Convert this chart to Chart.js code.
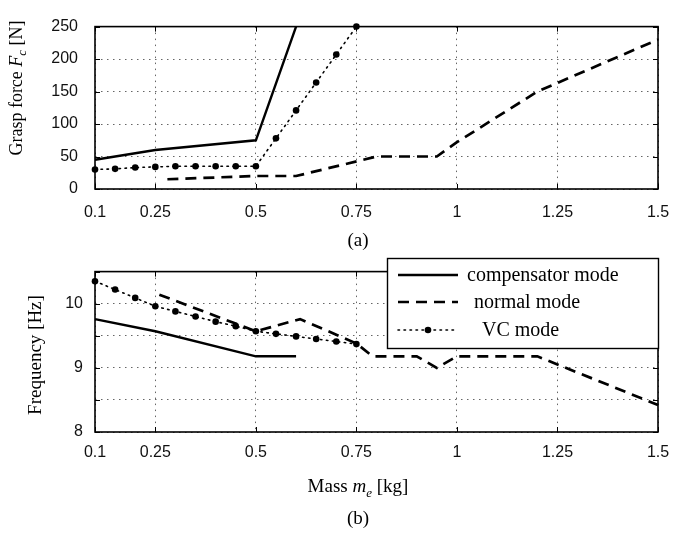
<!DOCTYPE html>
<html><head><meta charset="utf-8">
<script src="https://cdn.jsdelivr.net/npm/chart.js@4"></script>
<style>
html,body{margin:0;padding:0;background:#fff;}
#wrap{position:relative;width:689px;height:537px;background:#fff;}
#c1{position:absolute;left:0;top:0;}
#c2{position:absolute;left:0;top:250px;}
</style></head><body>
<div id="wrap"><canvas id="c1" width="689" height="250"></canvas><canvas id="c2" width="689" height="287"></canvas></div>
<script>
// ---- tick definitions ----
const massTicks = [0.1, 0.25, 0.5, 0.75, 1, 1.25, 1.5];
const massTickLabels = ['0.1', '0.25', '0.5', '0.75', '1', '1.25', '1.5'];
const forceTicks = [0, 50, 100, 150, 200, 250];
const forceTickLabels = ['0', '50', '100', '150', '200', '250'];
const freqTicks = [8, 8.5, 9, 9.5, 10, 10.5];
const freqTickLabels = ['8', '', '9', '', '10', ''];

// ---- (a) grasp force [N] ----
const forceCompMass = [0.1, 0.25, 0.5, 0.6];
const forceComp = [45, 60, 75, 250];
const forceNormalMass = [0.28, 0.5, 0.6, 0.8, 0.95, 1.0, 1.2, 1.5];
const forceNormal = [15, 20, 20, 50, 50, 72, 150, 230];
const forceVCMass = [0.1, 0.15, 0.2, 0.25, 0.3, 0.35, 0.4, 0.45, 0.5, 0.55, 0.6, 0.65, 0.7, 0.75];
const forceVC = [30, 31, 33, 34, 35, 35, 35, 35, 35, 78, 121, 164, 207, 250];

// ---- (b) frequency [Hz] ----
const freqCompMass = [0.1, 0.25, 0.5, 0.6];
const freqComp = [9.76, 9.57, 9.18, 9.18];
const freqNormalMass = [0.26, 0.5, 0.61, 0.75, 0.79, 0.9, 0.95, 1.0, 1.2, 1.5];
const freqNormal = [10.14, 9.57, 9.76, 9.38, 9.18, 9.18, 9.0, 9.18, 9.18, 8.42];
const freqVCMass = [0.1, 0.15, 0.2, 0.25, 0.3, 0.35, 0.4, 0.45, 0.5, 0.55, 0.6, 0.65, 0.7, 0.75];
const freqVC = [10.35, 10.22, 10.09, 9.96, 9.88, 9.80, 9.72, 9.65, 9.57, 9.53, 9.49, 9.45, 9.41, 9.37];

const seriesNames = ['compensator mode', 'normal mode', 'VC mode'];

Chart.defaults.font.family = "'Liberation Sans', Arial, sans-serif";
Chart.defaults.font.size = 16;
Chart.defaults.color = '#111';

const SERIF = "'Liberation Serif', 'Times New Roman', serif";
const DASH = [11, 7];
const DOT = [1.5, 4.5];

function pts(xs, ys) { return xs.map((x, i) => ({x: x, y: ys[i]})); }

function makeDatasets(cx, cy, nx, ny, vx, vy) {
  return [
    {label: seriesNames[0], data: pts(cx, cy), borderColor: '#000', borderWidth: 2.4, pointRadius: 0, fill: false, tension: 0, clip: false},
    {label: seriesNames[1], data: pts(nx, ny), borderColor: '#000', borderWidth: 2.7, borderDash: DASH, pointRadius: 0, fill: false, tension: 0, clip: false},
    {label: seriesNames[2], data: pts(vx, vy), borderColor: '#000', borderWidth: 1.6, borderDash: DOT, borderCapStyle: 'round',
     pointRadius: 3.3, pointBackgroundColor: '#000', pointBorderWidth: 0, fill: false, tension: 0, clip: false}
  ];
}

function drawRich(ctx, parts, cx, cy, size, rotate) {
  ctx.save();
  ctx.translate(cx, cy);
  if (rotate) ctx.rotate(-Math.PI / 2);
  ctx.fillStyle = '#000';
  ctx.textBaseline = 'alphabetic';
  ctx.textAlign = 'left';
  const subSize = Math.round(size * 0.7);
  let total = 0;
  const widths = parts.map(p => {
    ctx.font = (p.italic ? 'italic ' : '') + (p.sub ? subSize : size) + 'px ' + SERIF;
    const w = ctx.measureText(p.t).width;
    total += w;
    return w;
  });
  let x = -total / 2;
  const base = size * 0.33;
  parts.forEach((p, i) => {
    ctx.font = (p.italic ? 'italic ' : '') + (p.sub ? subSize : size) + 'px ' + SERIF;
    ctx.fillText(p.t, x, base + (p.sub ? size * 0.25 : 0));
    x += widths[i];
  });
  ctx.restore();
}

function decorPlugin(cfg) {
  return {
    id: 'decor',
    afterDatasetsDraw(chart) {
      const ctx = chart.ctx, a = chart.chartArea;
      const xs = chart.scales.x, ys = chart.scales.y;
      ctx.save();
      ctx.strokeStyle = '#000';
      ctx.lineWidth = 1;
      ctx.setLineDash([]);
      const tl = 5;
      ctx.beginPath();
      cfg.xTicks.forEach(v => {
        const px = Math.round(xs.getPixelForValue(v)) + 0.5;
        ctx.moveTo(px, a.bottom); ctx.lineTo(px, a.bottom - tl);
        ctx.moveTo(px, a.top); ctx.lineTo(px, a.top + tl);
      });
      cfg.yTicks.forEach(v => {
        const py = Math.round(ys.getPixelForValue(v)) + 0.5;
        ctx.moveTo(a.left, py); ctx.lineTo(a.left + tl, py);
        ctx.moveTo(a.right, py); ctx.lineTo(a.right - tl, py);
      });
      ctx.stroke();
      ctx.lineWidth = 1.6;
      ctx.strokeRect(a.left, a.top, a.right - a.left, a.bottom - a.top);
      ctx.restore();
    },
    afterDraw(chart) {
      const ctx = chart.ctx;
      drawRich(ctx, cfg.yTitle, cfg.yTitlePos[0], cfg.yTitlePos[1], cfg.yTitleSize, true);
      if (cfg.xTitle) drawRich(ctx, cfg.xTitle, cfg.xTitlePos[0], cfg.xTitlePos[1], 19, false);
      drawRich(ctx, [{t: cfg.caption}], cfg.captionPos[0], cfg.captionPos[1], 19, false);
      if (cfg.legend) {
        const L = cfg.legend;
        ctx.save();
        ctx.fillStyle = '#fff';
        ctx.fillRect(L.x, L.y, L.w, L.h);
        ctx.strokeStyle = '#000';
        ctx.lineWidth = 1.4;
        ctx.strokeRect(L.x + 0.5, L.y + 0.5, L.w, L.h);
        const styles = chart.data.datasets;
        L.rows.forEach((ry, i) => {
          const ds = styles[i];
          ctx.beginPath();
          ctx.strokeStyle = '#000';
          ctx.lineWidth = ds.borderWidth;
          ctx.lineCap = ds.borderCapStyle || 'butt';
          ctx.setLineDash(ds.borderDash || []);
          ctx.moveTo(L.sx0, ry); ctx.lineTo(L.sx1, ry);
          ctx.stroke();
          ctx.setLineDash([]);
          if (ds.pointRadius) {
            ctx.beginPath();
            ctx.fillStyle = '#000';
            ctx.arc((L.sx0 + L.sx1) / 2, ry, ds.pointRadius, 0, Math.PI * 2);
            ctx.fill();
          }
          ctx.fillStyle = '#000';
          ctx.font = '20px ' + SERIF;
          ctx.textAlign = 'left';
          ctx.textBaseline = 'middle';
          ctx.fillText(ds.label, L.tx[i], ry + 1);
        });
        ctx.restore();
      }
    }
  };
}

function makeChart(id, datasets, yMin, yMax, yTicks, yLabels, pad, xHeight, yPad, xPad, plugin) {
  return new Chart(document.getElementById(id), {
    type: 'line',
    data: {datasets: datasets},
    options: {
      responsive: false, animation: false, devicePixelRatio: 1,
      layout: {padding: {left: 0, right: 31, top: pad, bottom: 0}},
      plugins: {legend: {display: false}, tooltip: {enabled: false}},
      scales: {
        x: {
          type: 'linear', min: 0.1, max: 1.5,
          afterBuildTicks: s => { s.ticks = massTicks.map(v => ({value: v})); },
          afterFit: s => { s.height = xHeight; },
          ticks: {autoSkip: false, maxRotation: 0, padding: xPad, color: '#111',
                  callback: (v, i) => massTickLabels[i]},
          grid: {color: 'rgba(0,0,0,0.6)', lineWidth: 1, drawTicks: false, borderDash: DOT},
          border: {display: false, dash: [1.5, 4.5]}
        },
        y: {
          type: 'linear', min: yMin, max: yMax,
          afterBuildTicks: s => { s.ticks = yTicks.map(v => ({value: v})); },
          afterFit: s => { s.width = 95; },
          ticks: {autoSkip: false, padding: yPad, color: '#111',
                  callback: (v, i) => yLabels[i]},
          grid: {color: 'rgba(0,0,0,0.6)', lineWidth: 1, drawTicks: false, borderDash: DOT},
          border: {display: false, dash: [1.5, 4.5]}
        }
      }
    },
    plugins: [plugin]
  });
}

makeChart('c1', makeDatasets(forceCompMass, forceComp, forceNormalMass, forceNormal, forceVCMass, forceVC),
  0, 250, forceTicks, forceTickLabels, 13, 61, 17, 14,
  decorPlugin({
    xTicks: massTicks, yTicks: forceTicks,
    yTitle: [{t: 'Grasp force '}, {t: 'F', italic: true}, {t: 'c', italic: true, sub: true}, {t: ' [N]'}],
    yTitlePos: [16, 88], yTitleSize: 18,
    caption: '(a)', captionPos: [358, 240]
  }));

makeChart('c2', makeDatasets(freqCompMass, freqComp, freqNormalMass, freqNormal, freqVCMass, freqVC),
  8, 10.5, freqTicks, freqTickLabels, 21, 105, 12, 11,
  decorPlugin({
    xTicks: massTicks, yTicks: freqTicks,
    yTitle: [{t: 'Frequency [Hz]'}],
    yTitlePos: [35, 105], yTitleSize: 19,
    xTitle: [{t: 'Mass '}, {t: 'm', italic: true}, {t: 'e', italic: true, sub: true}, {t: ' [kg]'}],
    xTitlePos: [358, 236],
    caption: '(b)', captionPos: [358, 268],
    legend: {x: 387, y: 8, w: 271, h: 90, rows: [25, 52, 80], sx0: 398, sx1: 458, tx: [467, 474, 482]}
  }));
</script>
</body></html>
